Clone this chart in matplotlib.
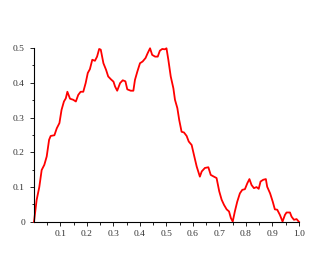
import matplotlib
matplotlib.use('Agg')
import matplotlib.pyplot as plt
from matplotlib.ticker import MultipleLocator, FixedLocator

# curve
xs = [0.0, 0.01, 0.02, 0.029, 0.039, 0.048, 0.057, 0.063, 0.077, 0.086, 0.096,
      0.104, 0.113, 0.12, 0.126, 0.136, 0.148, 0.158, 0.167, 0.176, 0.186,
      0.195, 0.203, 0.211, 0.22, 0.23, 0.238, 0.246, 0.252, 0.262, 0.272,
      0.28, 0.29, 0.30, 0.306, 0.314, 0.325, 0.335, 0.345, 0.352, 0.365,
      0.375, 0.381, 0.39, 0.40, 0.41, 0.421, 0.429, 0.438, 0.446, 0.457,
      0.467, 0.475, 0.484, 0.494, 0.50, 0.507, 0.516, 0.526, 0.532, 0.541,
      0.548, 0.557, 0.566, 0.576, 0.584, 0.595, 0.605, 0.614, 0.626, 0.633,
      0.645, 0.658, 0.667, 0.679, 0.689, 0.699, 0.708, 0.717, 0.727, 0.736,
      0.743, 0.75, 0.758, 0.767, 0.777, 0.786, 0.796, 0.805, 0.813, 0.821,
      0.830, 0.840, 0.848, 0.855, 0.865, 0.875, 0.880, 0.891, 0.901, 0.909,
      0.918, 0.928, 0.938, 0.947, 0.953, 0.966, 0.972, 0.981, 0.991, 1.0]
ys = [0.0, 0.063, 0.10, 0.149, 0.164, 0.188, 0.236, 0.247, 0.249, 0.269, 0.284,
      0.322, 0.346, 0.355, 0.374, 0.354, 0.351, 0.346, 0.365, 0.374, 0.374,
      0.399, 0.428, 0.439, 0.466, 0.463, 0.475, 0.497, 0.495, 0.456, 0.437,
      0.418, 0.410, 0.403, 0.389, 0.377, 0.399, 0.407, 0.404, 0.381, 0.377,
      0.377, 0.408, 0.432, 0.456, 0.461, 0.471, 0.485, 0.499, 0.480, 0.475,
      0.475, 0.492, 0.497, 0.496, 0.499, 0.466, 0.418, 0.384, 0.351, 0.327,
      0.293, 0.259, 0.257, 0.247, 0.231, 0.221, 0.188, 0.159, 0.130, 0.145,
      0.155, 0.157, 0.135, 0.130, 0.126, 0.088, 0.064, 0.049, 0.036, 0.030,
      0.011, 0.001, 0.030, 0.058, 0.082, 0.092, 0.094, 0.111, 0.123, 0.106,
      0.097, 0.100, 0.095, 0.116, 0.121, 0.123, 0.101, 0.082, 0.058, 0.036,
      0.035, 0.020, 0.001, 0.020, 0.027, 0.027, 0.015, 0.006, 0.008, 0.0]

xticks = [0.1, 0.2, 0.3, 0.4, 0.5, 0.6, 0.7, 0.8, 0.9, 1.0]
xlabels = ['0.1', '0.2', '0.3', '0.4', '0.5', '0.6', '0.7', '0.8', '0.9', '1.0']
yticks = [0, 0.1, 0.2, 0.3, 0.4, 0.5]
ylabels = ['0', '0.1', '0.2', '0.3', '0.4', '0.5']

plt.rcParams['font.family'] = ['Liberation Serif', 'DejaVu Serif']

fig = plt.figure(figsize=(3.3, 2.77), dpi=100)
ax = fig.add_axes([0.103, 0.199, 0.803, 0.628])
ax.plot(xs, ys, color='#ff0000', lw=1.3, clip_on=False)

ax.set_xlim(0, 1.0)
ax.set_ylim(0, 0.5)
ax.spines['top'].set_visible(False)
ax.spines['right'].set_visible(False)
for s in ['left', 'bottom']:
    ax.spines[s].set_linewidth(0.8)

ax.set_xticks(xticks)
ax.set_xticklabels(xlabels)
ax.set_yticks(yticks)
ax.set_yticklabels(ylabels)
ax.xaxis.set_minor_locator(FixedLocator([0.05, 0.15, 0.25, 0.35, 0.45, 0.55, 0.65, 0.75, 0.85, 0.95]))
ax.yaxis.set_minor_locator(MultipleLocator(0.05))
ax.tick_params(which='major', length=3, width=0.6, labelsize=6.8, labelcolor='#333333')
ax.tick_params(which='minor', length=1.8, width=0.6)
ax.tick_params(axis='x', pad=2.5)
ax.tick_params(axis='y', pad=3.5)

fig.savefig('out.png', dpi=100)
